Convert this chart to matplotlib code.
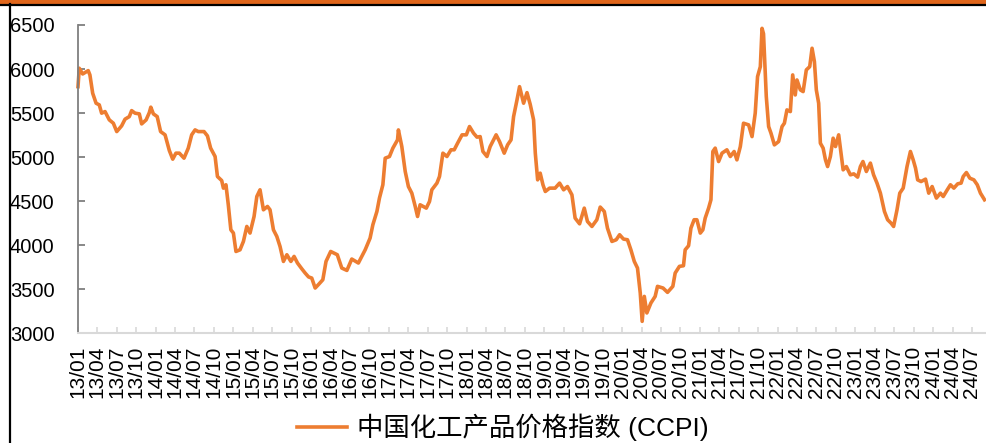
import matplotlib
matplotlib.use("Agg")
import matplotlib.pyplot as plt
import matplotlib.dates as mdates
from matplotlib.lines import Line2D
import pandas as pd

plt.rcParams['font.family'] = ['Liberation Sans', 'Noto Sans CJK SC', 'DejaVu Sans']

# CCPI (approximate dates)
dates = [
    "2013-01-01", "2013-01-07", "2013-01-23", "2013-02-18", "2013-02-26", "2013-03-11", "2013-03-27",
    "2013-04-11", "2013-04-22", "2013-05-08", "2013-05-28", "2013-06-16", "2013-07-02", "2013-07-25",
    "2013-08-10", "2013-08-30", "2013-09-10", "2013-09-26", "2013-10-16", "2013-10-27", "2013-11-17",
    "2013-12-02", "2013-12-09", "2013-12-21",
    "2014-01-08", "2014-01-24", "2014-02-14", "2014-03-06", "2014-03-22", "2014-04-06", "2014-04-22",
    "2014-05-14", "2014-06-03", "2014-06-19", "2014-07-05", "2014-07-20", "2014-08-16", "2014-09-01",
    "2014-09-16", "2014-10-07", "2014-10-18", "2014-11-07", "2014-11-15", "2014-11-27", "2014-12-08",
    "2014-12-20",
    "2015-01-01", "2015-01-13", "2015-02-01", "2015-02-17", "2015-03-05", "2015-03-20", "2015-04-08",
    "2015-04-21", "2015-05-06", "2015-05-22", "2015-06-10", "2015-06-22", "2015-07-08", "2015-07-24",
    "2015-08-08", "2015-08-24", "2015-09-09", "2015-09-28", "2015-10-13", "2015-10-29", "2015-11-19",
    "2015-12-04", "2015-12-20",
    "2016-01-04", "2016-01-20", "2016-02-04", "2016-02-25", "2016-03-11", "2016-04-02", "2016-05-03",
    "2016-05-24", "2016-06-17", "2016-07-10", "2016-08-10", "2016-09-11", "2016-10-04", "2016-10-17",
    "2016-11-05", "2016-11-17", "2016-12-03", "2016-12-14",
    "2017-01-03", "2017-01-19", "2017-02-10", "2017-02-14", "2017-03-02", "2017-03-18", "2017-04-02",
    "2017-04-18", "2017-05-04", "2017-05-15", "2017-05-27", "2017-06-25", "2017-07-10", "2017-07-21",
    "2017-08-14", "2017-08-26", "2017-09-11", "2017-09-30", "2017-10-19", "2017-11-03", "2017-11-19",
    "2017-12-10", "2017-12-30",
    "2018-01-14", "2018-02-02", "2018-02-18", "2018-03-05", "2018-03-18", "2018-04-06", "2018-04-21",
    "2018-05-19", "2018-06-04", "2018-06-26", "2018-07-12", "2018-07-28", "2018-08-09", "2018-08-25",
    "2018-09-06", "2018-09-25", "2018-10-11", "2018-10-26", "2018-11-11", "2018-11-19", "2018-11-30",
    "2018-12-12", "2018-12-25",
    "2019-01-05", "2019-01-25", "2019-02-20", "2019-03-13", "2019-04-01", "2019-04-19", "2019-05-10",
    "2019-05-25", "2019-06-15", "2019-07-07", "2019-07-22", "2019-08-12", "2019-09-04", "2019-09-20",
    "2019-10-09", "2019-10-24", "2019-11-14", "2019-12-04", "2019-12-20",
    "2020-01-07", "2020-01-26", "2020-02-11", "2020-02-27", "2020-03-13", "2020-03-26", "2020-04-04",
    "2020-04-14", "2020-04-26", "2020-05-15", "2020-06-04", "2020-06-15", "2020-07-11", "2020-08-01",
    "2020-08-26", "2020-09-06", "2020-09-26", "2020-10-15", "2020-10-23", "2020-11-08", "2020-11-19",
    "2020-12-04", "2020-12-17",
    "2021-01-02", "2021-01-14", "2021-01-25", "2021-02-10", "2021-02-21", "2021-03-02", "2021-03-13",
    "2021-03-29", "2021-04-14", "2021-05-07", "2021-05-23", "2021-06-10", "2021-06-23", "2021-07-09",
    "2021-07-24", "2021-08-17", "2021-09-02", "2021-09-17", "2021-09-28", "2021-10-11", "2021-10-19",
    "2021-10-26", "2021-11-08", "2021-11-19", "2021-11-30", "2021-12-16",
    "2022-01-05", "2022-01-21", "2022-02-01", "2022-02-13", "2022-03-01", "2022-03-12", "2022-03-24",
    "2022-04-01", "2022-04-17", "2022-04-30", "2022-05-15", "2022-05-31", "2022-06-11", "2022-06-22",
    "2022-07-01", "2022-07-12", "2022-07-20", "2022-08-02", "2022-08-13", "2022-08-23", "2022-09-05",
    "2022-09-18", "2022-09-29", "2022-10-14", "2022-11-04", "2022-11-19", "2022-12-08", "2022-12-24",
    "2023-01-11", "2023-01-24", "2023-02-05", "2023-02-21", "2023-03-12", "2023-03-27", "2023-04-12",
    "2023-04-28", "2023-05-17", "2023-06-01", "2023-06-17", "2023-06-29", "2023-07-15", "2023-07-28",
    "2023-08-13", "2023-08-31", "2023-09-16", "2023-09-29", "2023-10-10", "2023-10-20", "2023-11-05",
    "2023-11-26", "2023-12-11", "2023-12-27",
    "2024-01-16", "2024-02-04", "2024-02-17", "2024-03-07", "2024-03-22", "2024-04-07", "2024-04-25",
    "2024-05-11", "2024-05-21", "2024-06-05", "2024-06-21", "2024-07-10", "2024-07-26", "2024-08-10",
    "2024-08-29",
]
ccpi = [
    5800, 6009, 5944, 5982, 5933, 5725, 5612,
    5593, 5499, 5517, 5423, 5385, 5290, 5355,
    5431, 5460, 5528, 5499, 5491, 5377, 5423,
    5505, 5567, 5491,
    5460, 5290, 5253, 5075, 4977, 5045, 5045,
    4988, 5102, 5253, 5309, 5290, 5290, 5241,
    5102, 5007, 4780, 4734, 4648, 4686, 4459,
    4175,
    4138, 3929, 3948, 4043, 4213, 4138, 4326,
    4553, 4629, 4402, 4440, 4402, 4175, 4099,
    3986, 3816, 3892, 3816, 3873, 3798, 3730,
    3684, 3640,
    3627, 3514, 3552, 3608, 3816, 3929, 3892,
    3741, 3714, 3843, 3798, 3948, 4081, 4232,
    4383, 4535, 4686, 4988,
    5007, 5102, 5196, 5309, 5120, 4837, 4666,
    4591, 4440, 4326, 4459, 4421, 4496, 4629,
    4705, 4780, 5045, 5007, 5083, 5083, 5158,
    5253, 5253,
    5347, 5272, 5227, 5233, 5064, 5007, 5120,
    5253, 5177, 5045, 5139, 5196, 5460, 5649,
    5800, 5612, 5732, 5600, 5423, 5045, 4742,
    4818, 4686,
    4610, 4648, 4648, 4705, 4629, 4666, 4572,
    4308, 4243, 4421, 4270, 4213, 4289, 4433,
    4383, 4194, 4043, 4062, 4119,
    4070, 4062, 3948, 3816, 3741, 3457, 3136,
    3419, 3231, 3344, 3419, 3533, 3514, 3465,
    3533, 3684, 3760, 3767, 3948, 3994, 4194,
    4289, 4289,
    4138, 4175, 4308, 4421, 4516, 5064, 5102,
    4950, 5045, 5083, 5007, 5064, 4969, 5120,
    5385, 5366, 5233, 5499, 5914, 6027, 6462,
    6400, 5687, 5347, 5272, 5139,
    5177, 5347, 5385, 5536, 5517, 5933, 5706,
    5876, 5763, 5744, 5990, 6027, 6236, 6084,
    5763, 5612, 5158, 5102, 4969, 4893, 5007,
    5215, 5120, 5253, 4856, 4893, 4799, 4810,
    4773, 4893, 4950, 4837, 4932, 4799, 4705,
    4591, 4383, 4289, 4251, 4213, 4402, 4591,
    4648, 4893, 5064, 4969, 4875, 4742, 4723,
    4750, 4591, 4666,
    4535, 4591, 4553, 4629, 4686, 4648, 4697,
    4705, 4780, 4825, 4761, 4742, 4686, 4591,
    4516,
]
y_ticks = [3000, 3500, 4000, 4500, 5000, 5500, 6000, 6500]
label = "中国化工产品价格指数 (CCPI)"

x = pd.to_datetime(dates)
x_ticks = pd.date_range("2013-01-01", "2024-07-01", freq="QS")

fig = plt.figure(figsize=(9.86, 4.43), dpi=100)
ax = fig.add_axes([0.0791, 0.2476, 0.9209, 0.696])

ax.plot(x, ccpi, color="#ED7D31", lw=2.6, label=label, clip_on=False)

ax.set_ylim(3000, 6500)
ax.set_yticks(y_ticks)
ax.set_xlim(pd.Timestamp("2013-01-01"), pd.Timestamp("2024-09-05"))
ax.set_xticks(x_ticks)
ax.xaxis.set_major_formatter(mdates.DateFormatter("%y/%m"))

for s in ["top", "right"]:
    ax.spines[s].set_visible(False)
ax.spines["left"].set_color("#7f7f7f")
ax.spines["left"].set_linewidth(1.3)
ax.spines["bottom"].set_color("#d9d9d9")
ax.spines["bottom"].set_linewidth(1.5)

ax.tick_params(axis="y", direction="in", length=5, width=1.3, color="#7f7f7f",
               labelsize=14.5, pad=17)
ax.tick_params(axis="x", direction="in", length=4, width=1.2, color="#d9d9d9",
               labelsize=15, pad=9, labelrotation=90)

fig.legend(loc="center", bbox_to_anchor=(0.51, 0.036), frameon=False, fontsize=19,
           handlelength=1.9, handletextpad=0.4)

# frame decoration: orange band, black rule and left border
fig.add_artist(Line2D([0, 1], [0.9955, 0.9955], transform=fig.transFigure, color="#E0661B", lw=3.2))
fig.add_artist(Line2D([0, 1], [0.9896, 0.9896], transform=fig.transFigure, color="black", lw=1.6))
fig.add_artist(Line2D([0.0097, 0.0097], [0, 0.99], transform=fig.transFigure, color="black", lw=1.6))

fig.savefig("out.png", dpi=100)
